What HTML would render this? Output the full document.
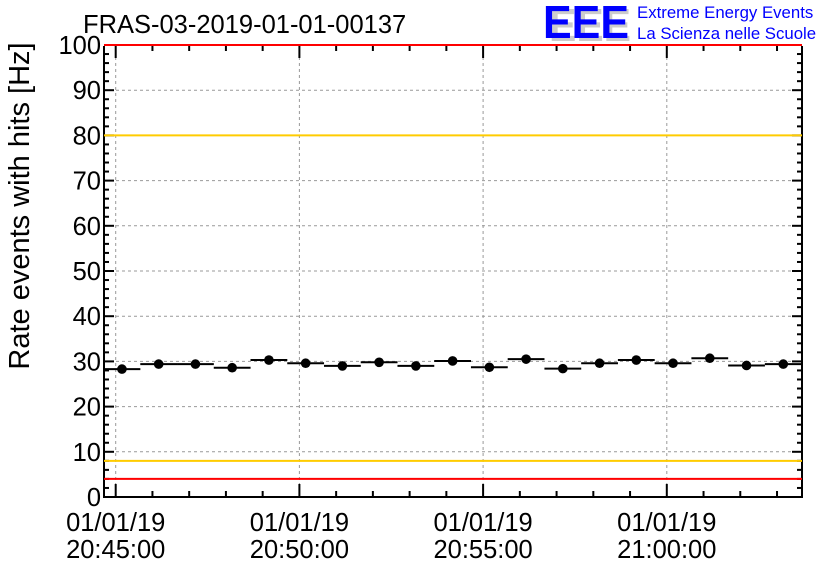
<!DOCTYPE html>
<html><head><meta charset="utf-8"><style>
body{margin:0;background:#fff;}
svg{display:block;font-family:"Liberation Sans",Arial,sans-serif;}
</style></head><body>
<svg id="c" width="836" height="572" viewBox="0 0 836 572">
<rect x="0" y="0" width="836" height="572" fill="#fff"/>
<text x="83" y="33" font-size="25.5" fill="#000">FRAS-03-2019-01-01-00137</text>
<g>
<text x="549" y="41" font-size="46" font-weight="bold" fill="#ccc" textLength="82" lengthAdjust="spacingAndGlyphs">EEE</text>
<text x="543" y="38" font-size="46" font-weight="bold" fill="#0000ff" textLength="86" lengthAdjust="spacingAndGlyphs">EEE</text>
<text x="637" y="18" font-size="16.8" fill="#0000ff">Extreme Energy Events</text>
<text x="637" y="39" font-size="16.8" fill="#0000ff">La Scienza nelle Scuole</text>
</g>
<text transform="translate(29,206) rotate(-90)" text-anchor="middle" font-size="29" fill="#000">Rate events with hits [Hz]</text>
<g id="grid"></g><g id="axes"></g><g id="marks"></g>
</svg>
<script>
const NS="http://www.w3.org/2000/svg";
const minutes=[0,1,2,3,4,5,6,7,8,9,10,11,12,13,14,15,16,17,18];
const rates=[28.3,29.4,29.4,28.6,30.3,29.6,29.0,29.8,29.0,30.1,28.7,30.5,28.4,29.6,30.3,29.6,30.7,29.1,29.4];
const yTicks=[0,10,20,30,40,50,60,70,80,90,100];
const xTickMinutes=[0,5,10,15];
const xTickLabels=[["01/01/19","20:45:00"],["01/01/19","20:50:00"],["01/01/19","20:55:00"],["01/01/19","21:00:00"]];
const thresholdsYellow=[8,80];
const thresholdsRed=[4,100];
const L=104,R=802,T=45,B=497;
const x0=115.7,pxMin=36.74;
const X=m=>x0+m*pxMin;
const Y=v=>B-(v/100)*(B-T);
function el(p,t,a){const e=document.createElementNS(NS,t);for(const k in a)e.setAttribute(k,a[k]);p.appendChild(e);return e;}
const grid=document.getElementById('grid'),axes=document.getElementById('axes'),marks=document.getElementById('marks');
yTicks.forEach(v=>{if(v>0&&v<100){const g=el(grid,'line',{x1:L,x2:R,y1:Y(v),y2:Y(v),stroke:'#999','stroke-dasharray':'3,3','stroke-width':1});

}});
xTickMinutes.forEach(m=>{const g=el(grid,'line',{x1:X(m),x2:X(m),y1:T,y2:B,stroke:'#999','stroke-dasharray':'3,3','stroke-width':1});

});
thresholdsYellow.forEach(v=>{const l=el(marks,'line',{x1:L,x2:R,y1:Y(v),y2:Y(v),stroke:'#ffcc00','stroke-width':2});

});
thresholdsRed.forEach(v=>{const l=el(marks,'line',{x1:L,x2:R,y1:Y(v),y2:Y(v),stroke:'#ff0000','stroke-width':2});

});
const f=el(axes,'path',{d:`M${L},${T+1}V${B}H${R}V${T+1}`,fill:'none',stroke:'#000','stroke-width':2});


for(let v=0;v<=100;v+=2){const maj=v%10===0,len=maj?10:5;
el(axes,'line',{x1:L,x2:L+len,y1:Y(v),y2:Y(v),stroke:'#000','stroke-width':2});
el(axes,'line',{x1:R-len,x2:R,y1:Y(v),y2:Y(v),stroke:'#000','stroke-width':2});}
yTicks.forEach(v=>{const t=el(axes,'text',{x:L-3,y:Y(v)+9,'text-anchor':'end','font-size':25.5});t.textContent=v;

});
for(let m=0;X(m)<R;m++){const maj=m%5===0,len=maj?13:6;
el(axes,'line',{x1:X(m),x2:X(m),y1:B,y2:B-len,stroke:'#000','stroke-width':2});
el(axes,'line',{x1:X(m),x2:X(m),y1:T,y2:T+len,stroke:'#000','stroke-width':2});}
xTickMinutes.forEach((m,i)=>{const t=el(axes,'text',{x:X(m),y:531,'text-anchor':'middle','font-size':25.5});


const a=el(t,'tspan',{x:X(m),dy:0});a.textContent=xTickLabels[i][0];
const b=el(t,'tspan',{x:X(m),dy:27});b.textContent=xTickLabels[i][1];});
minutes.forEach((m,i)=>{const cx=X(m+0.17);const y=Y(rates[i]);
const bar=el(marks,'line',{x1:Math.max(L,cx-18.4),x2:Math.min(R,cx+18.4),y1:y,y2:y,stroke:'#000','stroke-width':2});


const p=el(marks,'circle',{cx:cx,cy:y,r:4.8,fill:'#000'});

});
</script>
</body></html>
